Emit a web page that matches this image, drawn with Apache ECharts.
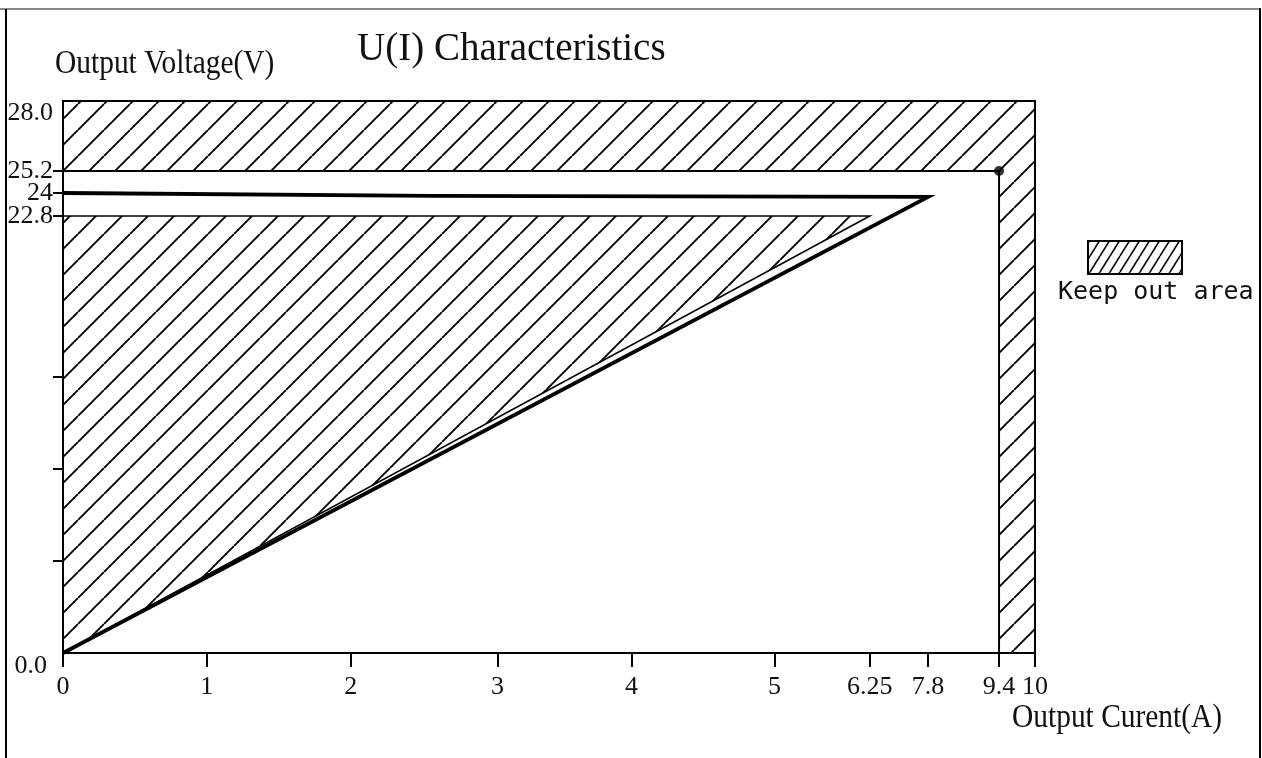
<!DOCTYPE html>
<html>
<head>
<meta charset="utf-8">
<script src="https://cdn.jsdelivr.net/npm/echarts@6/dist/echarts.min.js"></script>
<style>
html,body{margin:0;padding:0;background:#fff;}
#chart{width:1262px;height:758px;}
</style>
</head>
<body>
<div id="chart"></div>
<script>
// ---------- data (real units: current in A, voltage in V) ----------
const xTickValues = [0, 1, 2, 3, 4, 5, 6.25, 7.8, 9.4, 10];
const xTickLabels = ['0', '1', '2', '3', '4', '5', '6.25', '7.8', '9.4', '10'];
const yLabelValues = [0, 22.8, 24, 25.2, 28];
const yLabelTexts = ['0.0', '22.8', '24', '25.2', '28.0'];
const yTickValues = [4.8, 9.6, 14.4, 22.8, 24, 25.2];

// output characteristic U(I) (thick line)
const curveI = [0, 2.55, 7.8, 0];
const curveU = [24, 23.85, 23.8, 0];

// lower hatched band (under the 22.8 V limit)
const bandI = [0, 0, 6.25];
const bandU = [0, 22.8, 22.8];

// keep-out area (L shape: above 25.2 V and beyond 9.4 A)
const keepOutI = [0, 9.4, 9.4, 10, 10, 0];
const keepOutU = [25.2, 25.2, 0, 0, 28, 28];

// marked corner point
const markerI = [9.4];
const markerU = [25.2];

// ---------- axis calibration: the drawing's axes are not to scale ----------
// fraction of the axis length at which each tick value sits
const xCalibValues = xTickValues;
const xCalibSpots = [0, 0.148, 0.296, 0.447, 0.585, 0.732, 0.830, 0.890, 0.963, 1];
const yCalibValues = [0, 22.8, 24, 25.2, 28];
const yCalibSpots = [0, 0.7917, 0.8333, 0.8732, 1];

function warp(v, vals, spots) {
  for (let i = 0; i < vals.length - 1; i++) {
    if (v <= vals[i + 1]) {
      const t = (v - vals[i]) / (vals[i + 1] - vals[i]);
      return spots[i] + t * (spots[i + 1] - spots[i]);
    }
  }
  return spots[spots.length - 1];
}
const wx = v => warp(v, xCalibValues, xCalibSpots);
const wy = v => warp(v, yCalibValues, yCalibSpots);

function labelFor(v, vals, texts, fn) {
  let best = 0, d = Infinity;
  vals.forEach((val, i) => { const dd = Math.abs(fn(val) - v); if (dd < d) { d = dd; best = i; } });
  return texts[best];
}

// ---------- hatch patterns ----------
function makeHatch(w, h, lw) {
  const c = document.createElement('canvas');
  c.width = w; c.height = h;
  const g = c.getContext('2d');
  g.strokeStyle = '#000';
  g.lineWidth = lw;
  g.beginPath();
  for (let k = -1; k <= 1; k++) {
    g.moveTo(k * w, h);
    g.lineTo(k * w + w, 0);
  }
  g.stroke();
  return { image: c, repeat: 'repeat' };
}
const hatch = makeHatch(26, 26, 1.9);
const legendHatch = makeHatch(10, 16, 1.6);

const serif = '"Liberation Serif", "Times New Roman", serif';

const chart = echarts.init(document.getElementById('chart'), null, { renderer: 'canvas' });

function polySeries(name, xs, ys, style, z) {
  return {
    type: 'custom',
    name: name,
    z: z,
    silent: true,
    data: [[0, 0]],
    renderItem: function (params, api) {
      const pts = xs.map((x, i) => api.coord([wx(x), wy(ys[i])]));
      return { type: 'polygon', shape: { points: pts }, style: style };
    }
  };
}

function tallText(text, x, y, size) {
  return {
    type: 'text', silent: true,
    x: x, y: y, scaleX: 0.92, scaleY: 1.08,
    style: { text: text, x: 0, y: 0, verticalAlign: 'middle', align: 'left', font: size + 'px ' + serif, fill: '#111' }
  };
}

const option = {
  backgroundColor: '#fff',
  animation: false,
  title: {
    text: 'U(I) Characteristics',
    left: 357,
    top: 30,
    padding: 0,
    textStyle: { fontFamily: serif, fontSize: 39, fontWeight: 'normal', color: '#111' }
  },
  grid: { left: 63, top: 101, right: 227, bottom: 105, containLabel: false },
  xAxis: {
    type: 'value', min: 0, max: 1,
    splitLine: { show: false },
    axisLine: { lineStyle: { color: '#000', width: 2 } },
    axisTick: { length: 14, lineStyle: { color: '#000', width: 2 }, customValues: xTickValues.map(wx) },
    axisLabel: {
      customValues: xTickValues.map(wx),
      margin: 21,
      fontFamily: serif, fontSize: 26, color: '#111',
      formatter: v => labelFor(v, xTickValues, xTickLabels, wx)
    }
  },
  yAxis: {
    type: 'value', min: 0, max: 1,
    splitLine: { show: false },
    axisLine: { lineStyle: { color: '#000', width: 2 } },
    axisTick: { length: 10, lineStyle: { color: '#000', width: 2 }, customValues: yTickValues.map(wy) },
    axisLabel: {
      customValues: yLabelValues.map(wy),
      margin: 10,
      fontFamily: serif, fontSize: 26, color: '#111',
      formatter: v => {
        const t = labelFor(v, yLabelValues, yLabelTexts, wy);
        if (t === '28.0') return '{top|' + t + '}';
        if (t === '0.0') return '{bot|' + t + '}';
        return t;
      },
      rich: {
        top: { fontFamily: serif, fontSize: 26, color: '#111', padding: [24, 0, 0, 0] },
        bot: { fontFamily: serif, fontSize: 26, color: '#111', padding: [26, 6, 0, 0] }
      }
    }
  },
  series: [
    polySeries('Keep out area', keepOutI, keepOutU, { fill: hatch, stroke: '#000', lineWidth: 2 }, 2),
    polySeries('Limit band', bandI, bandU, { fill: hatch, stroke: '#000', lineWidth: 1.6 }, 3),
    {
      type: 'line',
      name: 'U(I)',
      z: 5,
      symbol: 'none',
      silent: true,
      lineStyle: { color: '#000', width: 3.8, join: 'miter' },
      data: curveI.map((x, i) => [wx(x), wy(curveU[i])])
    },
    {
      type: 'scatter',
      name: 'Corner',
      z: 6,
      symbolSize: 10,
      silent: true,
      itemStyle: { color: '#000' },
      data: markerI.map((x, i) => [wx(x), wy(markerU[i])])
    }
  ],
  graphic: [
    { type: 'line', silent: true, shape: { x1: 0, y1: 9, x2: 1261, y2: 9 }, style: { stroke: '#888', lineWidth: 2 } },
    { type: 'line', silent: true, shape: { x1: 6, y1: 9, x2: 6, y2: 758 }, style: { stroke: '#000', lineWidth: 2 } },
    { type: 'line', silent: true, shape: { x1: 1260, y1: 8, x2: 1260, y2: 758 }, style: { stroke: '#000', lineWidth: 2 } },
    tallText('Output Voltage(V)', 55, 64, 32),
    tallText('Output Curent(A)', 1012, 718, 32),
    { type: 'rect', silent: true, shape: { x: 1088, y: 241, width: 94, height: 33 }, style: { fill: legendHatch, stroke: '#000', lineWidth: 2 } },
    { type: 'text', silent: true, style: { text: 'Keep out area', x: 1058, y: 292, verticalAlign: 'middle', align: 'left', font: '25px "DejaVu Sans Mono", monospace', fill: '#111' } }
  ]
};
chart.setOption(option);
</script>
</body>
</html>
